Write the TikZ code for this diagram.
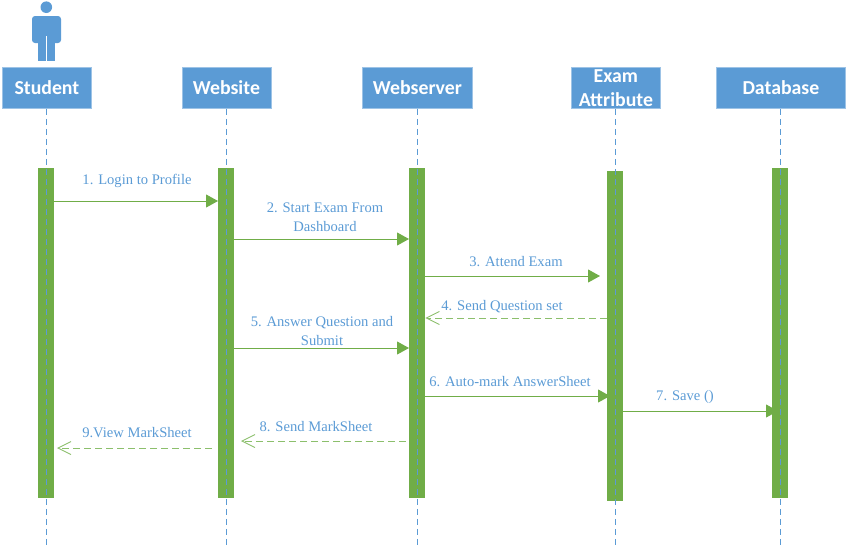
\documentclass[tikz,border=0pt]{standalone}
\usepackage{fontspec}
\setmainfont{Liberation Serif}
\newfontfamily\headfont{Carlito}
\usetikzlibrary{arrows.meta}
\definecolor{umlblue}{HTML}{5B9BD5}
\definecolor{umlline}{HTML}{9DC3E6}
\definecolor{umlgreen}{HTML}{70AD47}
\definecolor{umlgreenb}{HTML}{8CBF6C}
\tikzset{
  headbox/.style={draw=umlline,line width=.8pt,fill=umlblue,text=white,font=\headfont\bfseries\fontsize{19.8}{24}\selectfont,align=center,inner sep=0pt,anchor=north west},
  bar/.style={draw=none,fill=umlgreen,inner sep=0pt,anchor=north west,minimum width=16pt},
  lifeline/.style={draw=umlblue,line width=.9pt,dash pattern=on 6pt off 4pt},
  msg/.style={draw=umlgreen,line width=.9pt,-{Triangle[length=12pt,width=13pt,fill=umlgreen]}},
  reply/.style={draw=umlgreenb,line width=1pt,dash pattern=on 7pt off 4pt,-{Straight Barb[length=13pt,width=13pt,line width=.9pt,umlgreenb]}},
  lab/.style={text=umlblue,font=\fontsize{14.6}{19}\selectfont,align=center,inner sep=0pt},
}
\begin{document}
\begin{tikzpicture}[x=1pt,y=-1pt]
\useasboundingbox (0,0) rectangle (846,547);
% actor
\fill[umlblue] (46.3,7.2) circle (5.8);
\fill[umlblue,rounded corners=3pt] (32,43) -- (32,16) -- (61,16) -- (61,43) -- cycle;
\fill[umlblue] (37.7,30) rectangle (55.3,60.7);
\draw[white,line width=.5pt] (46.3,36) -- (46.3,60.7);
% heads
\node[headbox,minimum width=89pt,minimum height=41pt] (hs) at (2,67) {Student};
\node[headbox,minimum width=89pt,minimum height=41pt] (hw) at (181.5,67) {Website};
\node[headbox,minimum width=110pt,minimum height=41pt] (hv) at (362,67) {Webserver};
\node[headbox,minimum width=89pt,minimum height=41pt] (he) at (571,67) {\raisebox{-1pt}{Exam}\\\raisebox{-1pt}{Attribute}};
\node[headbox,minimum width=129pt,minimum height=41pt] (hd) at (716,67) {Database};
% activation bars
\node[bar,minimum height=330pt] (bs) at (38,168) {};
\node[bar,minimum height=330pt] (bw) at (218,168) {};
\node[bar,minimum height=330pt] (bv) at (409,168) {};
\node[bar,minimum height=330pt] (be) at (607,171) {};
\node[bar,minimum height=330pt] (bd) at (772,168) {};
% lifelines
\coordinate (es) at (46.3,545);
\coordinate (ew) at (226,545);
\coordinate (ev) at (417,545);
\coordinate (ee) at (615.5,545);
\coordinate (ed) at (780,545);
\draw[lifeline] (hs.south -| es) -- (es);
\draw[lifeline] (hw.south -| ew) -- (ew);
\draw[lifeline] (hv.south -| ev) -- (ev);
\draw[lifeline] (he.south -| ee) -- (ee);
\draw[lifeline] (hd.south -| ed) -- (ed);
% free ends of messages
\coordinate (t3) at (600,276);
\coordinate (t6) at (610,396);
\coordinate (t7) at (778,411);
\coordinate (f8) at (406,441);
\coordinate (t8) at (241,441);
\coordinate (f9) at (212,448);
\coordinate (t9) at (57,448);
% messages
\draw[msg] (bs.east |- 0,201) -- (bw.west |- 0,201);
\draw[msg] (bw.east |- 0,239) -- (bv.west |- 0,239);
\draw[msg] (bv.east |- t3) -- (t3);
\draw[reply] (be.west |- 0,318) -- (bv.east |- 0,318);
\draw[msg] (bw.east |- 0,348) -- (bv.west |- 0,348);
\draw[msg] (bv.east |- t6) -- (t6);
\draw[msg] (be.east |- t7) -- (t7);
\draw[reply] (f8) -- (t8);
\draw[reply] (f9) -- (t9);
% labels
\node[lab] (l1) at (137,181) {1. Login to Profile};
\node[lab] (l2) at (325,217) {2. Start Exam From\\Dashboard};
\node[lab] (l3) at (516,262) {3. Attend Exam};
\node[lab] (l4) at (502,307) {4. Send Question set};
\node[lab] (l5) at (322,331) {5. Answer Question and\\Submit};
\node[lab] (l6) at (510,382) {6. Auto-mark AnswerSheet};
\node[lab] (l7) at (685,397) {7. Save ()};
\node[lab] (l8) at (316,427) {8. Send MarkSheet};
\node[lab] (l9) at (137,433) {9.View MarkSheet};
\end{tikzpicture}
\end{document}
